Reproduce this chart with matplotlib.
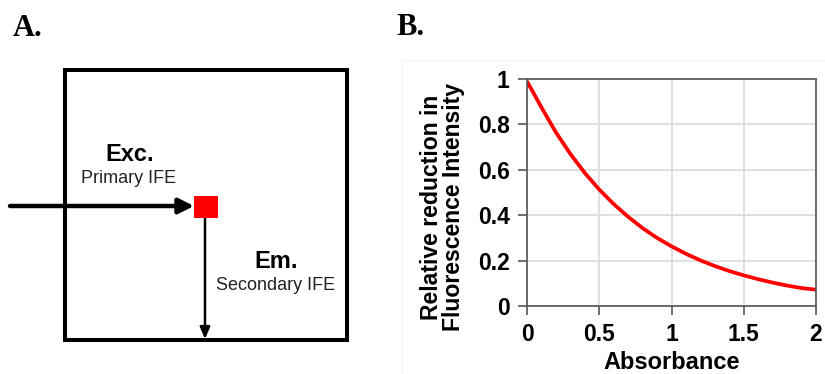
import matplotlib
matplotlib.use("Agg")
import matplotlib.pyplot as plt
from matplotlib.patches import Rectangle

plt.rcParams['font.family'] = ['Liberation Sans', 'DejaVu Sans']

# Panel B: relative reduction in fluorescence vs absorbance
absorbance = [0.0, 0.1, 0.2, 0.3, 0.4, 0.5, 0.6, 0.7, 0.8, 0.9, 1.0,
              1.1, 1.2, 1.3, 1.4, 1.5, 1.6, 1.7, 1.8, 1.9, 2.0]
reduction = [0.99, 0.875, 0.765, 0.67, 0.586, 0.513, 0.449, 0.393, 0.343, 0.30, 0.263,
             0.23, 0.201, 0.176, 0.154, 0.135, 0.118, 0.103, 0.09, 0.079, 0.072]
x_ticks = [0, 0.5, 1, 1.5, 2]
x_ticklabels = ['0', '0.5', '1', '1.5', '2']
y_ticks = [0, 0.2, 0.4, 0.6, 0.8, 1]
y_ticklabels = ['0', '0.2', '0.4', '0.6', '0.8', '1']

W, H = 825, 374
fig = plt.figure(figsize=(W / 100, H / 100), dpi=100)

# Panel A drawn in pixel coordinates
axA = fig.add_axes([0, 0, 1, 1])
axA.set_xlim(0, W)
axA.set_ylim(H, 0)
axA.axis('off')

axA.add_patch(Rectangle((65, 70), 282, 270, fill=False, edgecolor='black', lw=2.9))
axA.annotate('', xy=(194, 206), xytext=(10, 206),
             arrowprops=dict(arrowstyle='-|>,head_length=0.9,head_width=0.45',
                             color='black', lw=3.2, shrinkA=0, shrinkB=0))
axA.annotate('', xy=(205, 339), xytext=(205, 218),
             arrowprops=dict(arrowstyle='-|>,head_length=0.7,head_width=0.3',
                             color='black', lw=1.8, shrinkA=0, shrinkB=0))
axA.add_patch(Rectangle((194, 196), 24, 22, facecolor='#ff0000', edgecolor='none', zorder=3))

axA.text(130, 154, 'Exc.', fontsize=17, fontweight='bold', ha='center', va='center')
axA.text(129, 178, 'Primary IFE', fontsize=13, ha='center', va='center', color='#222222')
axA.text(276, 261, 'Em.', fontsize=17, fontweight='bold', ha='center', va='center')
axA.text(276, 286, 'Secondary IFE', fontsize=13, ha='center', va='center', color='#222222')

axA.text(13, 28, 'A.', fontsize=22, fontweight='bold', family='Liberation Serif',
         ha='left', va='center')
axA.text(396, 27, 'B.', fontsize=22, fontweight='bold', family='Liberation Serif',
         ha='left', va='center')

# faint frame around the chart area of panel B
axA.add_patch(Rectangle((402, 60), 430, 320, fill=False, edgecolor='#f4f4f4', lw=1))

# Panel B axes
axB = fig.add_axes([527 / W, 1 - 306 / H, (816 - 527) / W, (306 - 79) / H])
axB.plot(absorbance, reduction, color='#ff0000', lw=2.7, solid_capstyle='butt')
axB.set_xlim(0, 2)
axB.set_ylim(0, 1)
axB.set_xticks(x_ticks)
axB.set_xticklabels(x_ticklabels)
axB.set_yticks(y_ticks)
axB.set_yticklabels(y_ticklabels)
axB.grid(True, color='#dadada', lw=1.2)
axB.set_axisbelow(True)
for s in axB.spines.values():
    s.set_color('#555555')
    s.set_linewidth(1.2)
axB.tick_params(direction='out', length=6.5, width=1.2, color='#555555')
axB.tick_params(axis='x', pad=6)
axB.tick_params(axis='y', pad=6)
for lab in axB.get_xticklabels() + axB.get_yticklabels():
    lab.set_fontsize(16.5)
    lab.set_fontweight('bold')
axB.set_xlabel('Absorbance', fontsize=17, fontweight='bold', labelpad=3)
axB.set_ylabel('Relative reduction in\nFluorescence Intensity', fontsize=16.6,
               fontweight='bold', linespacing=0.95)
axB.yaxis.set_label_coords(-0.215, 0.436)

fig.savefig('out.png', dpi=100)
